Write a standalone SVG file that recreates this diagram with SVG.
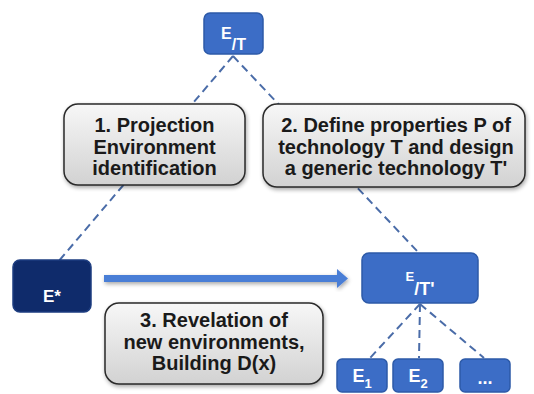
<svg xmlns="http://www.w3.org/2000/svg" width="534" height="394" viewBox="0 0 534 394">
<defs>
<linearGradient id="gray" x1="0" y1="0" x2="0" y2="1">
<stop offset="0" stop-color="#f7f7f7"/>
<stop offset="1" stop-color="#d2d2d2"/>
</linearGradient>
<filter id="sh" x="-10%" y="-10%" width="125%" height="130%">
<feGaussianBlur in="SourceAlpha" stdDeviation="2"/>
<feOffset dx="1" dy="2" result="b"/>
<feComponentTransfer><feFuncA type="linear" slope="0.35"/></feComponentTransfer>
<feMerge><feMergeNode/><feMergeNode in="SourceGraphic"/></feMerge>
</filter>
</defs>
<style>
.blue{fill:#3c6dc6;stroke:#2d5aa8;stroke-width:1.5}
.navy{fill:#0f2b6b;stroke:#1d3d80;stroke-width:1.5}
.step{fill:url(#gray);stroke:#2a2a2a;stroke-width:1.5;filter:url(#sh)}
.st{font-family:"Liberation Sans",Arial,sans-serif;font-weight:bold;font-size:20px;fill:#1a1a1a;text-anchor:middle}
.wt{font-family:"Liberation Sans",Arial,sans-serif;font-weight:bold;fill:#ffffff;text-anchor:middle}
.dash{stroke:#4a6ca8;stroke-width:2;stroke-dasharray:8 5;fill:none}
</style>
<g id="connectors">
<line class="dash" x1="233" y1="56" x2="58" y2="262"/>
<line class="dash" x1="233" y1="56" x2="418" y2="252"/>
<line class="dash" x1="420" y1="304" x2="370" y2="358"/>
<line class="dash" x1="420" y1="304" x2="419" y2="358"/>
<line class="dash" x1="420" y1="304" x2="484" y2="358"/>
<g filter="url(#sh)">
<rect x="104" y="275" width="236" height="7" fill="#4a7ed6"/>
<polygon points="337,269 348,278.5 337,288" fill="#4a7ed6"/>
</g>
</g>
<g id="node-ET">
<rect class="blue" x="204" y="13" width="59" height="41" rx="6"/>
<text class="wt" x="233.5" y="39" font-size="16">E<tspan dy="11">/T</tspan></text>
</g>
<g id="node-step1">
<rect class="step" x="64" y="104" width="181" height="81" rx="14"/>
<text class="st" x="154.5" y="132">1. Projection</text>
<text class="st" x="154.5" y="153.5">Environment</text>
<text class="st" x="154.5" y="175">identification</text>
</g>
<g id="node-step2">
<rect class="step" x="263" y="104" width="262" height="83" rx="14"/>
<text class="st" x="396" y="132">2. Define properties P of</text>
<text class="st" x="396" y="153.5">technology T and design</text>
<text class="st" x="396" y="175">a generic technology T'</text>
</g>
<g id="node-Estar">
<rect class="navy" x="13" y="260" width="78" height="52" rx="7"/>
<text class="wt" x="52" y="302" font-size="17">E*</text>
</g>
<g id="node-ETp">
<rect class="blue" x="362" y="253" width="116" height="50" rx="7"/>
<text class="wt" x="420" y="281" font-size="13">E<tspan font-size="18" dy="14">/T'</tspan></text>
</g>
<g id="node-step3">
<rect class="step" x="105" y="303" width="218" height="81" rx="14"/>
<text class="st" x="214" y="327">3. Revelation of</text>
<text class="st" x="214" y="348.5">new environments,</text>
<text class="st" x="214" y="370">Building D(x)</text>
</g>
<g id="node-E1">
<rect class="blue" x="337" y="359" width="50" height="33" rx="5"/>
<text class="wt" x="362" y="382" font-size="18">E<tspan font-size="13" dy="6">1</tspan></text>
</g>
<g id="node-E2">
<rect class="blue" x="393" y="359" width="50" height="33" rx="5"/>
<text class="wt" x="418" y="382" font-size="18">E<tspan font-size="13" dy="6">2</tspan></text>
</g>
<g id="node-more">
<rect class="blue" x="460" y="359" width="50" height="33" rx="5"/>
<text class="wt" x="485" y="384" font-size="18">...</text>
</g>
</svg>
